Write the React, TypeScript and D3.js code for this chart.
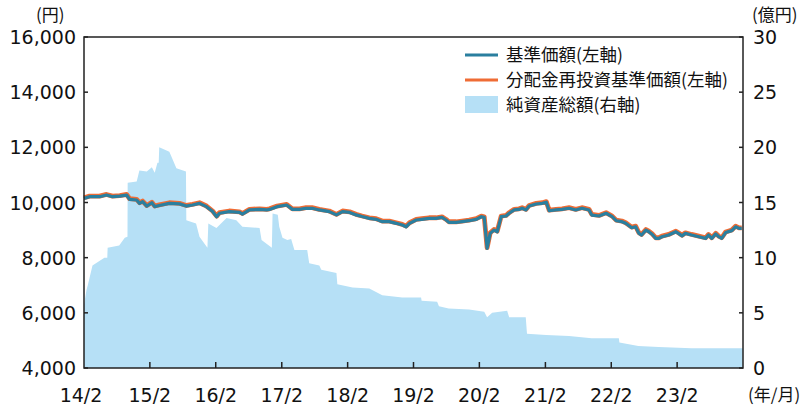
import * as d3 from 'd3'
import React, { useEffect, useRef } from 'react'

// 基準価額 (円) — 分配金再投資基準価額 is the same (no payouts)
const navDates = [
  '2014-02-01', '2014-03-04', '2014-04-28', '2014-06-06', '2014-07-09', '2014-08-18', '2014-09-25',
  '2014-10-12', '2014-11-20', '2014-12-06', '2014-12-23', '2015-01-15', '2015-02-12', '2015-02-28',
  '2015-03-25', '2015-05-20', '2015-07-15', '2015-08-22', '2015-09-25', '2015-11-03', '2015-12-12',
  '2016-01-15', '2016-02-06', '2016-02-22', '2016-04-16', '2016-06-12', '2016-06-28', '2016-08-06',
  '2016-10-01', '2016-11-09', '2016-11-25', '2017-01-06', '2017-02-28', '2017-04-01', '2017-05-10',
  '2017-06-16', '2017-07-19', '2017-08-28', '2017-10-22', '2017-12-01', '2018-01-04', '2018-02-12',
  '2018-03-20', '2018-04-22', '2018-06-01', '2018-07-09', '2018-08-12', '2018-09-20', '2018-10-28',
  '2018-12-01', '2018-12-22', '2019-01-10', '2019-02-16', '2019-03-19', '2019-04-28', '2019-06-06',
  '2019-07-09', '2019-08-01', '2019-08-16', '2019-09-25', '2019-10-28', '2019-12-06', '2020-01-15',
  '2020-02-12', '2020-02-28', '2020-03-15', '2020-04-01', '2020-04-22', '2020-05-10', '2020-06-01',
  '2020-06-28', '2020-07-15', '2020-08-12', '2020-09-08', '2020-09-25', '2020-10-16', '2020-11-03',
  '2020-12-12', '2021-01-15', '2021-02-06', '2021-02-22', '2021-04-01', '2021-05-04', '2021-06-12',
  '2021-07-19', '2021-08-22', '2021-10-01', '2021-10-16', '2021-11-25', '2022-01-03', '2022-02-06',
  '2022-02-28', '2022-04-01', '2022-04-22', '2022-05-25', '2022-06-16', '2022-07-04', '2022-07-19',
  '2022-08-12', '2022-08-28', '2022-09-15', '2022-10-06', '2022-10-22', '2022-11-09', '2022-12-16',
  '2023-01-25', '2023-02-12', '2023-02-28', '2023-03-19', '2023-04-22', '2023-06-01', '2023-07-09',
  '2023-07-25', '2023-08-12', '2023-09-03', '2023-09-19', '2023-10-06', '2023-10-28', '2023-12-01',
  '2023-12-22', '2024-01-10', '2024-01-25'
]
const navValues = [
  10150, 10210, 10210, 10270, 10210, 10230, 10270,
  10115, 10090, 9970, 10030, 9870, 9990, 9850,
  9890, 9970, 9950, 9870, 9910, 9970, 9850,
  9670, 9485, 9610, 9670, 9640, 9580, 9730,
  9750, 9730, 9750, 9850, 9910, 9750, 9750,
  9790, 9790, 9730, 9670, 9550, 9670, 9640,
  9550, 9490, 9425, 9390, 9305, 9305, 9245,
  9185, 9120, 9245, 9365, 9390, 9425, 9425,
  9460, 9365, 9280, 9280, 9305, 9340, 9390,
  9485, 9460, 8340, 8880, 9000, 8940, 9485,
  9510, 9610, 9730, 9750, 9790, 9730, 9870,
  9945, 9970, 10010, 9700, 9730, 9750, 9790,
  9730, 9790, 9730, 9545, 9510, 9610, 9485,
  9340, 9305, 9245, 9085, 9120, 8880, 8820,
  9000, 8940, 8850, 8700, 8700, 8760, 8820,
  8940, 8860, 8790, 8880, 8820, 8760, 8700,
  8820, 8700, 8860, 8760, 8700, 8910, 8980,
  9120, 9060, 9060
]
const reinvestValues = [...navValues]

// 純資産総額 (億円)
const assetDates = [
  '2014-02-01', '2014-02-15', '2014-02-22', '2014-03-20', '2014-05-25', '2014-06-10', '2014-06-12',
  '2014-08-15', '2014-09-15', '2014-09-30', '2014-10-01', '2014-11-20', '2014-12-05', '2015-01-15',
  '2015-02-12', '2015-02-28', '2015-03-15', '2015-03-22', '2015-03-25', '2015-05-20', '2015-06-28',
  '2015-08-20', '2015-08-22', '2015-10-15', '2015-11-03', '2015-12-17', '2015-12-22', '2016-02-05',
  '2016-04-01', '2016-05-25', '2016-06-28', '2016-10-01', '2016-10-12', '2016-12-08', '2016-12-12',
  '2017-01-10', '2017-01-18', '2017-02-05', '2017-03-04', '2017-03-25', '2017-04-12', '2017-06-22',
  '2017-07-03', '2017-08-28', '2017-09-08', '2017-12-01', '2017-12-06', '2018-02-28', '2018-06-01',
  '2018-08-12', '2018-12-01', '2019-03-15', '2019-03-18', '2019-06-12', '2019-06-22', '2019-08-15',
  '2019-12-06', '2020-02-28', '2020-03-15', '2020-04-12', '2020-07-04', '2020-07-15', '2020-10-15',
  '2020-10-22', '2021-02-05', '2021-06-12', '2021-10-15', '2022-03-15', '2022-03-18', '2022-07-01',
  '2022-10-22', '2023-04-22', '2024-01-31'
]
const assetValues = [
  5.7, 7.1, 7.5, 9.3, 10.0, 10.0, 10.9,
  11.1, 11.8, 11.9, 16.8, 16.9, 17.9, 17.8,
  18.2, 17.7, 18.6, 18.6, 20.0, 19.6, 18.1,
  17.8, 13.4, 13.1, 11.9, 10.9, 13.1, 12.7,
  13.6, 13.4, 12.8, 12.7, 11.6, 10.9, 14.0,
  13.9, 12.8, 11.8, 11.6, 11.7, 10.7, 10.7,
  9.5, 9.3, 8.9, 8.6, 7.6, 7.3, 7.2,
  6.6, 6.4, 6.4, 6.1, 6.0, 5.6, 5.4,
  5.3, 5.1, 4.6, 5.0, 5.2, 4.6, 4.6,
  3.1, 3.0, 2.9, 2.7, 2.7, 2.3, 2.0,
  1.9, 1.8, 1.8
]

const leftTicks = [4000, 6000, 8000, 10000, 12000, 14000, 16000]
const rightTicks = [0, 5, 10, 15, 20, 25, 30]
const xTickLabels = ['14/2', '15/2', '16/2', '17/2', '18/2', '19/2', '20/2', '21/2', '22/2', '23/2']

const legendItems = [
  { label: '基準価額(左軸)', kind: 'nav' },
  { label: '分配金再投資基準価額(左軸)', kind: 'reinvest' },
  { label: '純資産総額(右軸)', kind: 'asset' }
]

const BLUE = '#2a7f9f'
const ORANGE = '#ef6c35'
const AREA = '#b6e0f6'
const AXIS = '#222'
const NUM_FONT = '"DejaVu Sans", "Noto Sans CJK JP", sans-serif'
const JP_FONT = '"Noto Sans CJK JP", sans-serif'

export default function App() {
  const ref = useRef<SVGSVGElement>(null)

  useEffect(() => {
    const svg = d3.select(ref.current)
    svg.selectAll('*').remove()

    const parse = d3.timeParse('%Y-%m-%d')
    const left = 84, right = 743, top = 37, bottom = 368

    const x = d3
      .scaleTime()
      .domain([parse('2014-02-01'), parse('2024-02-01')])
      .range([left, right])
    const yL = d3.scaleLinear().domain([4000, 16000]).range([bottom, top])
    const yR = d3.scaleLinear().domain([0, 30]).range([bottom, top])

    const assets = assetDates.map((d, i) => ({ date: parse(d), v: assetValues[i] }))
    const nav = navDates.map((d, i) => ({ date: parse(d), v: navValues[i] }))
    const reinvest = navDates.map((d, i) => ({ date: parse(d), v: reinvestValues[i] }))

    const area = d3
      .area<any>()
      .x(d => x(d.date))
      .y0(yR(0))
      .y1(d => yR(d.v))
    svg.append('path').datum(assets).attr('d', area).attr('fill', AREA)

    const line = d3
      .line<any>()
      .x(d => x(d.date))
      .y(d => yL(d.v))
    svg
      .append('path')
      .datum(reinvest)
      .attr('d', line)
      .attr('fill', 'none')
      .attr('stroke', ORANGE)
      .attr('stroke-width', 4.8)
      .attr('stroke-linejoin', 'round')
      .attr('transform', 'translate(0,-0.6)')
    svg
      .append('path')
      .datum(nav)
      .attr('d', line)
      .attr('fill', 'none')
      .attr('stroke', BLUE)
      .attr('stroke-width', 3.2)
      .attr('stroke-linejoin', 'round')

    // frame
    svg
      .append('rect')
      .attr('x', left)
      .attr('y', top)
      .attr('width', right - left)
      .attr('height', bottom - top)
      .attr('fill', 'none')
      .attr('stroke', AXIS)
      .attr('stroke-width', 1.5)

    // left axis
    const gl = svg.append('g')
    leftTicks.forEach(t => {
      gl.append('line')
        .attr('x1', left).attr('x2', left + 4)
        .attr('y1', yL(t)).attr('y2', yL(t))
        .attr('stroke', AXIS).attr('stroke-width', 1.5)
      gl.append('text')
        .attr('x', 76).attr('y', yL(t) + 7)
        .attr('text-anchor', 'end')
        .style('font-family', NUM_FONT).style('font-size', '19px')
        .attr('fill', '#111')
        .text(d3.format(',')(t))
    })

    // right axis
    const gr = svg.append('g')
    rightTicks.forEach(t => {
      gr.append('line')
        .attr('x1', right - 4).attr('x2', right)
        .attr('y1', yR(t)).attr('y2', yR(t))
        .attr('stroke', AXIS).attr('stroke-width', 1.5)
      gr.append('text')
        .attr('x', 753).attr('y', yR(t) + 7)
        .style('font-family', NUM_FONT).style('font-size', '19px')
        .attr('fill', '#111')
        .text(t)
    })

    // bottom axis
    const gb = svg.append('g')
    xTickLabels.forEach((lab, i) => {
      const d = new Date(2014 + i, 1, 1)
      const px = x(d)
      if (i > 0) {
        gb.append('line')
          .attr('x1', px).attr('x2', px)
          .attr('y1', bottom).attr('y2', bottom - 6)
          .attr('stroke', AXIS).attr('stroke-width', 1.5)
      }
      gb.append('text')
        .attr('x', px - (i === 0 ? 3 : 0)).attr('y', 402)
        .attr('text-anchor', 'middle')
        .style('font-family', NUM_FONT).style('font-size', '19px')
        .attr('fill', '#111')
        .text(lab)
    })

    // unit labels
    const unit = (tx: number, ty: number, s: string) =>
      svg.append('text')
        .attr('x', tx).attr('y', ty)
        .style('font-family', JP_FONT).style('font-size', '17px')
        .attr('fill', '#111')
        .text(s)
    unit(36, 21, '(円)')
    unit(752, 21, '(億円)')
    unit(748, 401, '(年/月)')

    // legend
    const lg = svg.append('g')
    legendItems.forEach((it, i) => {
      const cy = 55 + i * 25
      if (it.kind === 'asset') {
        lg.append('rect')
          .attr('x', 465).attr('y', cy - 9)
          .attr('width', 33).attr('height', 17)
          .attr('fill', AREA)
      } else {
        lg.append('line')
          .attr('x1', 465).attr('x2', 498)
          .attr('y1', cy).attr('y2', cy)
          .attr('stroke', it.kind === 'nav' ? BLUE : ORANGE)
          .attr('stroke-width', 3)
      }
      lg.append('text')
        .attr('x', 506).attr('y', cy + 6)
        .style('font-family', JP_FONT).style('font-size', '17.5px')
        .attr('fill', '#111')
        .text(it.label)
    })
  }, [])

  return (
    <svg
      ref={ref}
      width={803}
      height={408}
      style={{ position: 'absolute', left: 0, top: 0, background: '#fff' }}
    />
  )
}
